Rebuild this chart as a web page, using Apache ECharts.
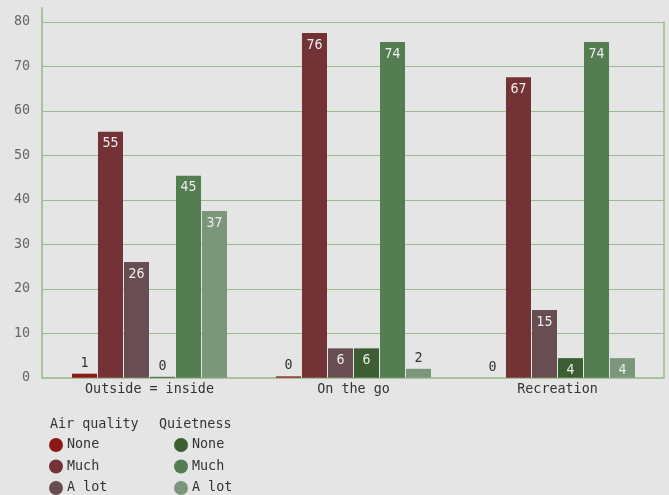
<!DOCTYPE html>
<html><head><meta charset="utf-8">
<script src="https://cdn.jsdelivr.net/npm/echarts@6/dist/echarts.min.js"></script>
<style>html,body{margin:0;padding:0;background:#e5e5e5}#c{width:669px;height:495px}</style>
</head><body><div id="c"></div>
<script>
// ---- data ----
const categories = ['Outside = inside', 'On the go', 'Recreation'];
const groupTitles = ['Air quality', 'Quietness'];
const levels = ['None', 'Much', 'A lot'];
const yTickLabels = ['0', '10', '20', '30', '40', '50', '60', '70', '80'];

// bar heights (as drawn) and printed labels
const airNone = [0.9, 0.3, 0];
const airNoneLabels = ['1', '0', '0'];
const airMuch = [55.3, 77.5, 67.6];
const airMuchLabels = ['55', '76', '67'];
const airALot = [26.0, 6.6, 15.2];
const airALotLabels = ['26', '6', '15'];
const quietNone = [0.2, 6.6, 4.4];
const quietNoneLabels = ['0', '6', '4'];
const quietMuch = [45.4, 75.5, 75.5];
const quietMuchLabels = ['45', '74', '74'];
const quietALot = [37.5, 2.0, 4.4];
const quietALotLabels = ['37', '2', '4'];

// ---- style ----
const MONO = '"DejaVu Sans Mono", "Liberation Mono", monospace';
const SANS = '"DejaVu Sans Condensed", "Noto Sans", sans-serif';
const lineColor = '#9dba8e';
const colors = ['#8a1818', '#733236', '#684e52', '#3d5e33', '#557d52', '#7b967a'];

const seriesDefs = [
  ['Air quality|None', airNone, airNoneLabels],
  ['Air quality|Much', airMuch, airMuchLabels],
  ['Air quality|A lot', airALot, airALotLabels],
  ['Quietness|None', quietNone, quietNoneLabels],
  ['Quietness|Much', quietMuch, quietMuchLabels],
  ['Quietness|A lot', quietALot, quietALotLabels]
];

const series = seriesDefs.map(([name, vals, labs], si) => ({
  name, type: 'bar', xAxisIndex: 0, yAxisIndex: 0,
  barGap: '4%', barCategoryGap: '24%',
  itemStyle: { color: colors[si] },
  data: vals.map((v, i) => {
    const small = v < 3;
    return {
      value: v,
      label: small
        ? { show: true, position: 'top', distance: 4, color: '#333', fontFamily: MONO, fontSize: 13.4, formatter: () => labs[i] }
        : { show: true, position: 'insideTop', distance: 5, color: '#eeeeee', fontFamily: SANS, fontSize: 14, formatter: () => labs[i] }
    };
  })
}));

const gridBottom = 117.3;
const option = {
  backgroundColor: '#e5e5e5',
  animation: false,
  title: [
    { text: groupTitles[0], left: 50, top: 418, padding: 0, textStyle: { fontFamily: MONO, fontSize: 13.4, fontWeight: 'normal', color: '#333' } },
    { text: groupTitles[1], left: 159, top: 418, padding: 0, textStyle: { fontFamily: MONO, fontSize: 13.4, fontWeight: 'normal', color: '#333' } }
  ],
  legend: [0, 1].map(g => ({
    orient: 'vertical', left: g === 0 ? 49 : 174, top: 438, padding: 0,
    itemWidth: 14, itemHeight: 14, itemGap: 7.5, icon: 'circle',
    data: levels.map(l => groupTitles[g] + '|' + l),
    formatter: n => n.split('|')[1],
    textStyle: { fontFamily: MONO, fontSize: 13.4, color: '#333', padding: [2, 0, 0, -1] }
  })),
  grid: [
    { left: 47.5, right: 9.5, top: 22, bottom: gridBottom },
    { left: 42, right: 5, top: 22, bottom: gridBottom },
    { left: 42, right: 5, top: 8, bottom: gridBottom }
  ],
  xAxis: [
    { gridIndex: 0, type: 'category', data: categories,
      axisLine: { show: false }, axisTick: { show: false },
      axisLabel: { margin: 5, color: '#333', fontFamily: MONO, fontSize: 13.4 } },
    { gridIndex: 1, type: 'value', min: 0, max: 1, show: true,
      axisLine: { show: true, lineStyle: { color: '#a8c39b', width: 2 } },
      axisTick: { show: false }, axisLabel: { show: false }, splitLine: { show: false } },
    { gridIndex: 2, type: 'value', min: 0, max: 1, show: false }
  ],
  yAxis: [
    { gridIndex: 0, type: 'value', min: 0, max: 80, interval: 10, show: false },
    { gridIndex: 1, type: 'value', min: 0, max: 80, interval: 10,
      axisLine: { show: false }, axisTick: { show: false },
      axisLabel: { margin: 12, color: '#666', fontFamily: MONO, fontSize: 13.4,
        formatter: v => yTickLabels[Math.round(v / 10)] },
      splitLine: { show: true, lineStyle: { color: lineColor, width: 1 } } },
    { gridIndex: 1, type: 'value', min: 0, max: 80, interval: 10, position: 'right',
      axisLine: { show: true, lineStyle: { color: lineColor, width: 1.5 } },
      axisTick: { show: false }, axisLabel: { show: false }, splitLine: { show: false } },
    { gridIndex: 2, type: 'value', min: 0, max: 1,
      axisLine: { show: true, lineStyle: { color: '#a8c39b', width: 2 } },
      axisTick: { show: false }, axisLabel: { show: false }, splitLine: { show: false } }
  ],
  series
};
const chart = echarts.init(document.getElementById('c'), null, { renderer: 'canvas' });
chart.setOption(option);
</script></body></html>
